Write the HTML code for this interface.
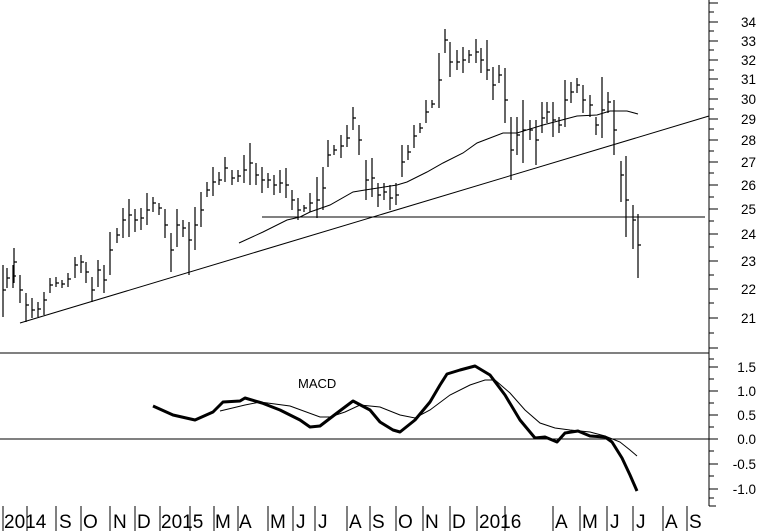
<!DOCTYPE html>
<html><head><meta charset="utf-8"><style>
html,body{margin:0;padding:0;background:#fff}
svg{display:block}
text{font-family:"Liberation Sans",sans-serif;fill:#000}
</style></head><body>
<svg width="760" height="531" viewBox="0 0 760 531" xmlns="http://www.w3.org/2000/svg">
<rect width="760" height="531" fill="#fff"/>
<g stroke="#000" stroke-width="1.2" fill="none">
<path d="M3 265V317M7 268V288M13 265V288M14 248V283M20 275V303M26 293V322M32 298V318M38 302V317M44 292V315M50 278V293M56 277V287M62 280V288M68 273V287M75 257V278M81 255V273M86 262V283M92 277V302M98 260V287M104 265V293M110 232V275M117 228V243M123 208V238M129 199V237M135 209V232M141 208V230M147 193V225M153 197V212M159 203V215M165 209V238M171 233V272M177 209V247M183 220V237M189 222V275M195 207V250M201 192V227M207 182V197M213 167V196M219 172V185M225 157V182M232 170V185M238 170V182M244 155V183M250 143V185M256 163V185M262 167V193M268 173V188M274 175V195M280 170V193M286 168V198M292 190V210M298 198V220M304 205V212M310 193V212M317 177V218M323 167V210M328 140V167M334 145V155M341 135V158M347 125V147M353 107V130M359 125V155M366 160V200M372 158V197M378 183V207M384 183V200M390 185V210M396 183V205M402 145V177M408 145V160M414 125V148M420 123V133M426 100V123M432 100V108M439 53V108M445 29V53M450 42V77M457 50V70M463 47V73M469 50V63M476 39V63M481 48V73M487 40V80M493 67V100M499 65V83M505 68V123M511 117V180M517 117V155M523 100V163M530 120V140M536 120V165M542 102V133M547 102V123M553 102V137M559 117V133M565 80V127M571 82V103M577 78V93M583 85V113M590 95V117M596 117V135M602 77V138M608 92V113M614 100V155M621 161V202M626 156V237M633 205V249M638 214V278"/>
<path d="M3 290H6M7 278H10M13 276H16M14 262H17M20 290H23M26 305H29M32 310H35M38 309H41M44 300H47M50 285H53M56 283H59M62 284H65M68 279H71M75 265H78M81 262H84M86 272H89M92 290H95M98 270H101M104 280H107M110 250H113M117 235H120M123 220H126M129 215H132M135 220H138M141 218H144M147 210H150M153 203H156M159 208H162M165 225H168M171 250H174M177 225H180M183 228H186M189 240H192M195 225H198M201 210H204M207 190H210M213 182H216M219 180H222M225 168H228M232 178H235M238 176H241M244 170H247M250 163H253M256 175H259M262 180H265M268 180H271M274 185H277M280 183H283M286 185H289M292 200H295M298 210H301M304 208H307M310 203H313M317 200H320M323 188H326M328 155H331M334 150H337M341 146H344M347 138H350M353 118H356M359 140H362M366 180H369M372 178H375M378 195H381M384 192H387M390 198H393M396 195H399M402 162H405M408 152H411M414 136H417M420 128H423M426 112H429M432 104H435M439 80H442M445 40H448M450 62H453M457 62H460M463 60H466M469 55H472M476 52H479M481 60H484M487 70H490M493 85H496M499 75H502M505 100H508M511 150H514M517 135H520M523 130H526M530 130H533M536 140H539M542 118H545M547 112H550M553 120H556M559 125H562M565 100H568M571 92H574M577 85H580M583 100H586M590 105H593M596 125H599M602 110H605M608 102H611M614 130H617M621 175H624M626 200H629M633 220H636M638 245H641"/>
</g>
<g stroke="#000" stroke-width="1" fill="none">
<path d="M20 323L709 116"/>
<path d="M262 217H705"/>
<path d="M239 243L263 232L287 220L300 217L310 212L330 205L353 192L365 190L397 185L407 182L427 172L443 163L463 153L477 143L503 133L517 133L543 125L577 116L597 115L610 111L627 111L638 114"/>
<path d="M0 353H709"/>
<path d="M0 439H709"/>
<path d="M709 0V506"/>
<path d="M220 411L245 405L260 402L290 406L320 417L330 417L345 412L360 405L380 407L400 415L415 418L430 410L450 395L470 385L485 380L495 380L510 393L525 410L540 423L555 428L570 430L590 432L605 436L620 442L630 450L637 456"/>
</g>
<path d="M153 406L173 415L195 420L213 412L223 402L240 401L245 398L262 403L280 410L300 420L310 427L320 426L337 413L353 401L370 410L380 422L393 430L400 432L415 420L430 402L440 385L447 374L460 370L475 366L490 375L505 395L520 420L535 438L545 437L557 442L565 433L578 431L590 436L605 437L612 442L622 458L630 475L637 491" stroke="#000" stroke-width="3" fill="none" stroke-linejoin="round"/>
<g stroke="#000" stroke-width="1">
<path d="M709 3H718M709 22H718M709 41H718M709 60H718M709 79H718M709 99H718M709 119H718M709 140H718M709 162H718M709 185H718M709 209H718M709 234H718M709 261H718M709 289H718M709 318H718M709 348H718"/>
<path d="M709 12H714M709 31H714M709 50H714M709 70H714M709 89H714M709 109H714M709 129H714M709 151H714M709 173H714M709 197H714M709 221H714M709 247H714M709 275H714M709 303H714M709 333H714"/>
<path d="M709 367H718M709 391H718M709 415H718M709 439H718M709 464H718M709 489H718"/>
<path d="M709 359H714M709 379H714M709 403H714M709 427H714M709 451H714M709 476H714M709 498H714M709 506H716"/>
<path d="M3 506V531M27 506V531M56 506V531M81 506V531M110 506V531M135 506V531M160 506V531M190 506V531M214 506V531M238 506V531M268 506V531M293 506V531M315 506V531M347 506V531M370 506V531M396 506V531M423 506V531M450 506V531M477 506V531M505 506V531M553 506V531M580 506V531M607 506V531M633 506V531M663 506V531M687 506V531"/>
</g>
<g font-size="13.5" text-anchor="end">
<text x="756" y="27">34</text><text x="756" y="46">33</text><text x="756" y="65">32</text><text x="756" y="84">31</text><text x="756" y="104">30</text><text x="756" y="124">29</text><text x="756" y="145">28</text><text x="756" y="167">27</text><text x="756" y="190">26</text><text x="756" y="214">25</text><text x="756" y="239">24</text><text x="756" y="266">23</text><text x="756" y="294">22</text><text x="756" y="323">21</text>
<text x="756" y="372">1.5</text><text x="756" y="396">1.0</text><text x="756" y="420">0.5</text><text x="756" y="444">0.0</text><text x="756" y="469">-0.5</text><text x="756" y="494">-1.0</text>
</g>
<text x="298" y="388" font-size="13">MACD</text>
<g font-size="19">
<text x="4" y="528">2014</text><text x="59" y="528">S</text><text x="83" y="528">O</text><text x="113" y="528">N</text><text x="137" y="528">D</text><text x="161" y="528">2015</text><text x="215" y="528">M</text><text x="239" y="528">A</text><text x="270" y="528">M</text><text x="296" y="528">J</text><text x="318" y="528">J</text><text x="349" y="528">A</text><text x="372" y="528">S</text><text x="398" y="528">O</text><text x="425" y="528">N</text><text x="452" y="528">D</text><text x="479" y="528">2016</text><text x="555" y="528">A</text><text x="582" y="528">M</text><text x="610" y="528">J</text><text x="636" y="528">J</text><text x="665" y="528">A</text><text x="689" y="528">S</text>
</g>
</svg>
</body></html>
